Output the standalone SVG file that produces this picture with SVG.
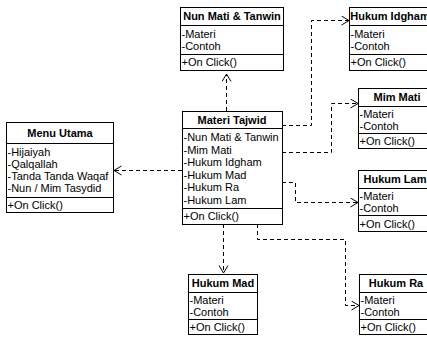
<svg xmlns="http://www.w3.org/2000/svg" width="427" height="338" viewBox="0 0 427 338">
<defs>
<style>
.box{fill:#fff;stroke:#000;stroke-width:1}
.ln{stroke:#000;stroke-width:1;fill:none}
.h{font-family:"Liberation Sans",Arial,sans-serif;font-size:11px;font-weight:bold;text-anchor:middle;fill:#000}
.t{font-family:"Liberation Sans",Arial,sans-serif;font-size:11px;fill:#000}
.c{stroke:#000;stroke-width:1;fill:none;stroke-dasharray:4 3}
</style>
<marker id="ah" markerUnits="userSpaceOnUse" markerWidth="12" markerHeight="12" refX="8" refY="5" orient="auto">
<path d="M0.5,0.5 L8,5 L0.5,9.5" fill="none" stroke="#000" stroke-width="1"/>
</marker>
</defs>
<rect width="427" height="338" fill="#fff"/>

<g id="connectors">
<path class="c" d="M226.5,111 V74" marker-end="url(#ah)"/>
<path class="c" d="M182,170.5 H114" marker-end="url(#ah)"/>
<path class="c" d="M282,125.5 H311.5 V20.5 H349" marker-end="url(#ah)"/>
<path class="c" d="M282,152.5 H331.5 V103.5 H358" marker-end="url(#ah)"/>
<path class="c" d="M282,182.5 H295.5 V202.5 H358" marker-end="url(#ah)"/>
<path class="c" d="M223.5,224 V273" marker-end="url(#ah)"/>
<path class="c" d="M257.5,224 V239.5 H345.5 V305.5 H359" marker-end="url(#ah)"/>
</g>

<g id="menu-utama">
<rect class="box" x="6.5" y="122.5" width="107" height="90"/>
<line class="ln" x1="6.5" y1="143.5" x2="113.5" y2="143.5"/>
<line class="ln" x1="6.5" y1="197.5" x2="113.5" y2="197.5"/>
<text class="h" x="60" y="137">Menu Utama</text>
<text class="t" x="7.5" y="156">-Hijaiyah</text>
<text class="t" x="7.5" y="168">-Qalqallah</text>
<text class="t" x="7.5" y="180">-Tanda Tanda Waqaf</text>
<text class="t" x="7.5" y="192">-Nun / Mim Tasydid</text>
<text class="t" x="7.5" y="209">+On Click()</text>
</g>

<g id="nun-mati">
<rect class="box" x="180.5" y="7.5" width="103" height="63"/>
<line class="ln" x1="180.5" y1="25.5" x2="283.5" y2="25.5"/>
<line class="ln" x1="180.5" y1="54.5" x2="283.5" y2="54.5"/>
<text class="h" x="232" y="20">Nun Mati &amp; Tanwin</text>
<text class="t" x="181.5" y="38">-Materi</text>
<text class="t" x="181.5" y="50">-Contoh</text>
<text class="t" x="181.5" y="66">+On Click()</text>
</g>

<g id="materi-tajwid">
<rect class="box" x="182.5" y="111.5" width="100" height="113"/>
<line class="ln" x1="182.5" y1="128.5" x2="282.5" y2="128.5"/>
<line class="ln" x1="182.5" y1="208.5" x2="282.5" y2="208.5"/>
<text class="h" x="232" y="124">Materi Tajwid</text>
<text class="t" x="183.5" y="141">-Nun Mati &amp; Tanwin</text>
<text class="t" x="183.5" y="154">-Mim Mati</text>
<text class="t" x="183.5" y="166">-Hukum Idgham</text>
<text class="t" x="183.5" y="179">-Hukum Mad</text>
<text class="t" x="183.5" y="191">-Hukum Ra</text>
<text class="t" x="183.5" y="204">-Hukum Lam</text>
<text class="t" x="183.5" y="220">+On Click()</text>
</g>

<g id="hukum-idgham">
<rect class="box" x="349.5" y="7.5" width="85" height="63"/>
<line class="ln" x1="349.5" y1="25.5" x2="434.5" y2="25.5"/>
<line class="ln" x1="349.5" y1="54.5" x2="434.5" y2="54.5"/>
<text class="h" x="390" y="20">Hukum Idgham</text>
<text class="t" x="350.5" y="38">-Materi</text>
<text class="t" x="350.5" y="50">-Contoh</text>
<text class="t" x="350.5" y="66">+On Click()</text>
</g>

<g id="mim-mati">
<rect class="box" x="358.5" y="88.5" width="78" height="60"/>
<line class="ln" x1="358.5" y1="106.5" x2="436.5" y2="106.5"/>
<line class="ln" x1="358.5" y1="133.5" x2="436.5" y2="133.5"/>
<text class="h" x="397" y="101">Mim Mati</text>
<text class="t" x="359.5" y="118">-Materi</text>
<text class="t" x="359.5" y="130">-Contoh</text>
<text class="t" x="359.5" y="145">+On Click()</text>
</g>

<g id="hukum-lam">
<rect class="box" x="358.5" y="170.5" width="76" height="61"/>
<line class="ln" x1="358.5" y1="188.5" x2="434.5" y2="188.5"/>
<line class="ln" x1="358.5" y1="215.5" x2="434.5" y2="215.5"/>
<text class="h" x="395" y="183">Hukum Lam</text>
<text class="t" x="359.5" y="200">-Materi</text>
<text class="t" x="359.5" y="212">-Contoh</text>
<text class="t" x="359.5" y="228">+On Click()</text>
</g>

<g id="hukum-mad">
<rect class="box" x="188.5" y="274.5" width="69" height="60"/>
<line class="ln" x1="188.5" y1="292.5" x2="257.5" y2="292.5"/>
<line class="ln" x1="188.5" y1="319.5" x2="257.5" y2="319.5"/>
<text class="h" x="223" y="287">Hukum Mad</text>
<text class="t" x="189.5" y="304">-Materi</text>
<text class="t" x="189.5" y="316">-Contoh</text>
<text class="t" x="189.5" y="331">+On Click()</text>
</g>

<g id="hukum-ra">
<rect class="box" x="359.5" y="274.5" width="74" height="60"/>
<line class="ln" x1="359.5" y1="292.5" x2="433.5" y2="292.5"/>
<line class="ln" x1="359.5" y1="319.5" x2="433.5" y2="319.5"/>
<text class="h" x="396" y="287">Hukum Ra</text>
<text class="t" x="360.5" y="304">-Materi</text>
<text class="t" x="360.5" y="316">-Contoh</text>
<text class="t" x="360.5" y="331">+On Click()</text>
</g>
</svg>
